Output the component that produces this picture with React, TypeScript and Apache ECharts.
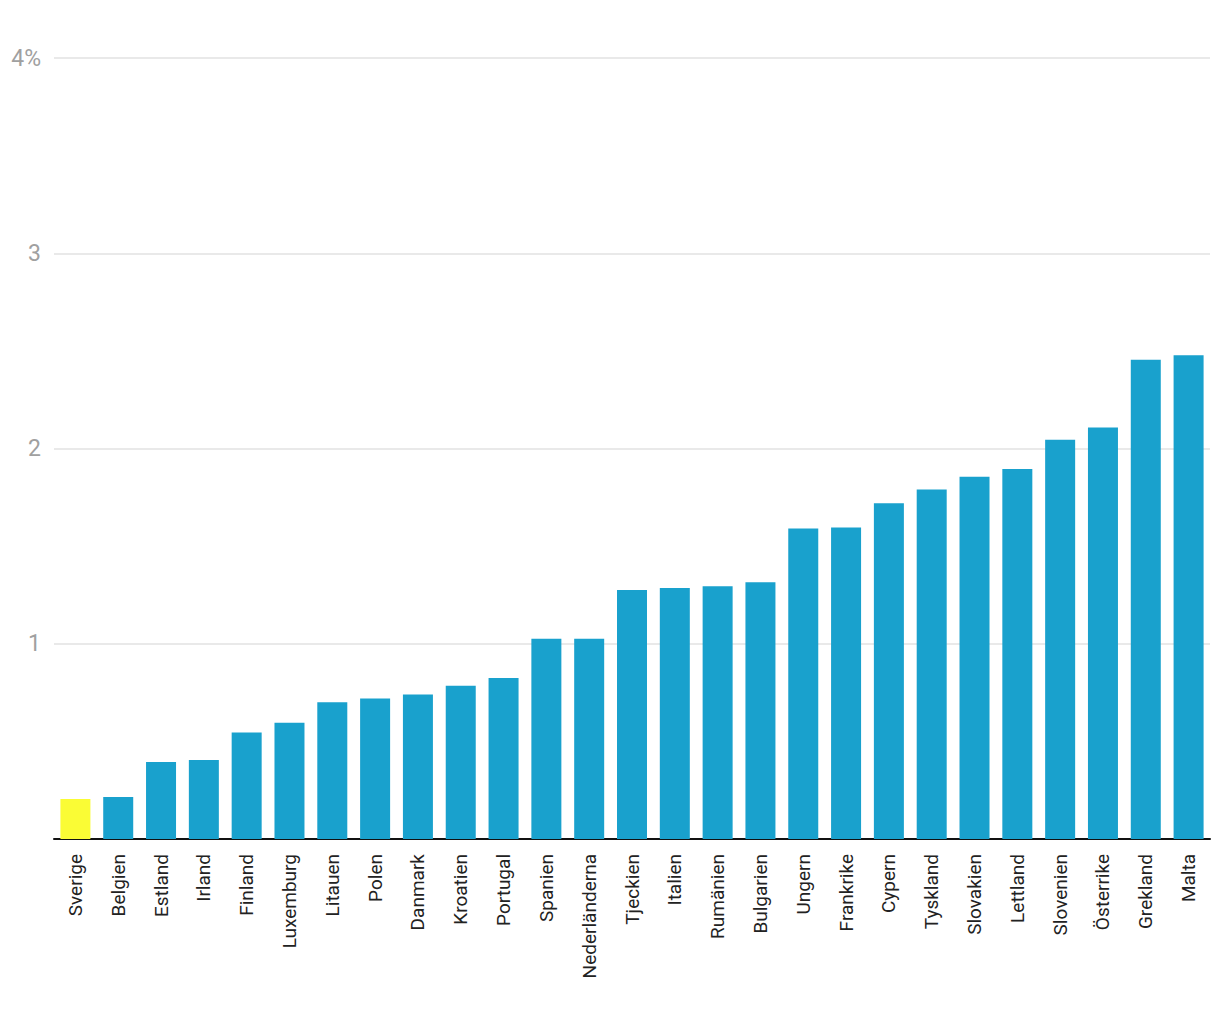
import React, { useEffect, useRef } from "react";
import * as echarts from "echarts";

const countries = [
  "Sverige", "Belgien", "Estland", "Irland", "Finland", "Luxemburg", "Litauen", "Polen",
  "Danmark", "Kroatien", "Portugal", "Spanien", "Nederländerna", "Tjeckien", "Italien",
  "Rumänien", "Bulgarien", "Ungern", "Frankrike", "Cypern", "Tyskland", "Slovakien",
  "Lettland", "Slovenien", "Österrike", "Grekland", "Malta",
];
const values = [
  0.205, 0.215, 0.395, 0.405, 0.545, 0.595, 0.70, 0.72, 0.74, 0.785, 0.825, 1.025, 1.025,
  1.275, 1.285, 1.295, 1.315, 1.59, 1.595, 1.72, 1.79, 1.855, 1.895, 2.045, 2.108, 2.455, 2.477,
];
const highlight = "Sverige";
const yTicks = [0, 1, 2, 3, 4];

export default function App() {
  const ref = useRef<HTMLDivElement>(null);
  useEffect(() => {
    document.body.style.margin = "0";
    const chart = echarts.init(ref.current!, null, { renderer: "svg" });
    chart.setOption({
      animation: false,
      textStyle: { fontFamily: "Roboto" },
      grid: { left: 54, right: 10, top: 58, bottom: 181, containLabel: false },
      xAxis: {
        type: "category",
        data: countries,
        axisLine: { show: true, lineStyle: { color: "#111", width: 2 } },
        axisTick: { show: false },
        axisLabel: {
          rotate: 90,
          interval: 0,
          color: "#222",
          fontSize: 19,
          margin: 15,
          fontFamily: "Roboto",
        },
      },
      yAxis: {
        type: "value",
        min: yTicks[0],
        max: yTicks[yTicks.length - 1],
        interval: 1,
        axisLine: { show: false },
        axisTick: { show: false },
        splitLine: { lineStyle: { color: "#e2e2e2", width: 1.5 } },
        axisLabel: {
          color: "#a0a0a0",
          fontSize: 23,
          margin: 13,
          fontFamily: "Roboto",
          formatter: (v: number) => (v === 0 ? "" : v === 4 ? "4%" : String(v)),
        },
      },
      series: [
        {
          type: "bar",
          barWidth: 30,
          data: values.map((v, i) => ({
            value: v,
            itemStyle: { color: countries[i] === highlight ? "#fafc35" : "#19a1cd" },
          })),
        },
      ],
    });
    return () => chart.dispose();
  }, []);
  return (
    <div
      ref={ref}
      style={{ position: "absolute", left: 0, top: 0, width: 1220, height: 1020 }}
    />
  );
}
